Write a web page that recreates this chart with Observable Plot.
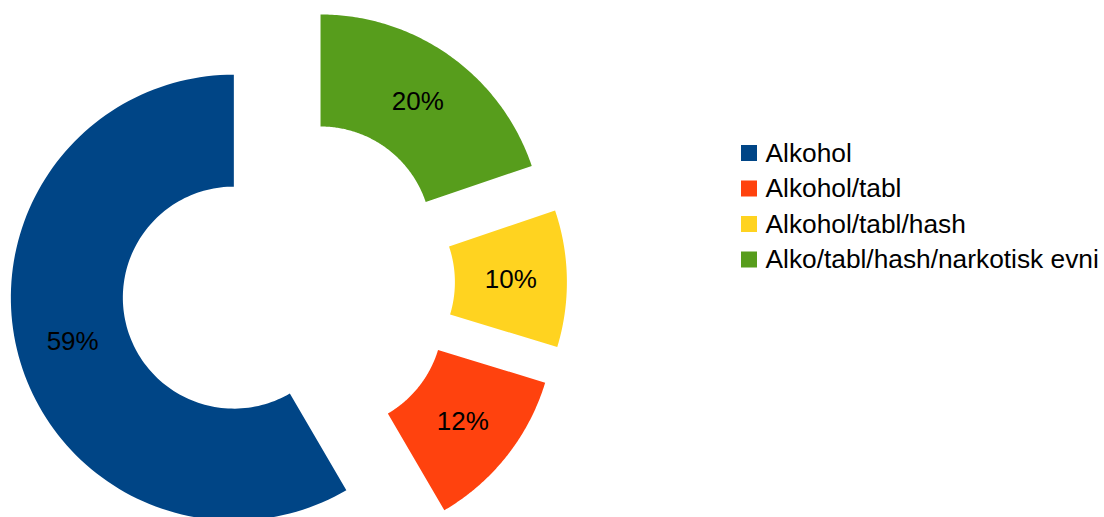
<!DOCTYPE html>
<html>
<head>
<meta charset="utf-8">
<script src="https://cdn.jsdelivr.net/npm/d3@7"></script>
<script src="https://cdn.jsdelivr.net/npm/@observablehq/plot@0.6"></script>
<style>
  html, body { margin: 0; padding: 0; background: #fff; }
  #chart svg { display: block; }
</style>
</head>
<body>
<div id="chart"></div>
<script>
// Data
const categories = ["Alkohol", "Alkohol/tabl", "Alkohol/tabl/hash", "Alko/tabl/hash/narkotisk evni"];
const values = [59, 12, 10, 20];
const labels = ["59%", "12%", "10%", "20%"];
const colors = ["#004586", "#ff420e", "#ffd320", "#579d1c"];

// Layout
const W = 1104, H = 517;
const cx = 287.4, cy = 282.5;
const R = 223, r = 111, explode = 56;
const font = "Liberation Sans, Arial, Helvetica, sans-serif";

const total = d3.sum(values);
// Slices go counter-clockwise from 12 o'clock (angles measured clockwise from top)
let acc = 0;
const slices = categories.map((cat, i) => {
  const a0 = 360 - acc;
  acc += values[i] / total * 360;
  const a1 = 360 - acc;
  const mid = (a0 + a1) / 2 * Math.PI / 180;
  const ox = cx + explode * Math.sin(mid);
  const oy = cy - explode * Math.cos(mid);
  return {cat, i, a0: a1 * Math.PI / 180, a1: a0 * Math.PI / 180, mid, ox, oy};
});

const arcPts = [];
for (const s of slices) {
  const n = 120;
  for (let k = 0; k <= n; k++) {
    const a = s.a0 + (s.a1 - s.a0) * k / n;
    arcPts.push({cat: s.cat, x: s.ox + R * Math.sin(a), y: s.oy - R * Math.cos(a)});
  }
  for (let k = n; k >= 0; k--) {
    const a = s.a0 + (s.a1 - s.a0) * k / n;
    arcPts.push({cat: s.cat, x: s.ox + r * Math.sin(a), y: s.oy - r * Math.cos(a)});
  }
}

const labelPts = slices.map(s => ({
  label: labels[s.i],
  x: s.ox + (R + r) / 2 * Math.sin(s.mid),
  y: s.oy - (R + r) / 2 * Math.cos(s.mid)
}));

const legX = 741, legY0 = 153, legStep = 35.5, sw = 16;
const legend = categories.map((cat, i) => ({cat, y: legY0 + i * legStep}));

const chart = Plot.plot({
  width: W,
  height: H,
  margin: 0,
  style: {fontFamily: font, background: "#fff"},
  x: {domain: [0, W], range: [0, W], axis: null},
  y: {domain: [0, H], range: [0, H], axis: null},
  color: {domain: categories, range: colors},
  marks: [
    Plot.line(arcPts, {x: "x", y: "y", z: "cat", fill: "cat", stroke: null, curve: "linear"}),
    Plot.text(labelPts, {x: "x", y: "y", text: "label", fontSize: 26, fill: "#000", fontFamily: font}),
    Plot.rect(legend, {x1: legX, x2: legX + sw, y1: d => d.y - sw / 2, y2: d => d.y + sw / 2, fill: "cat"}),
    Plot.text(legend, {x: legX + sw + 8, y: "y", text: "cat", textAnchor: "start", fontSize: 26.3, fill: "#000", fontFamily: font})
  ]
});
document.getElementById("chart").appendChild(chart);
</script>
</body>
</html>
